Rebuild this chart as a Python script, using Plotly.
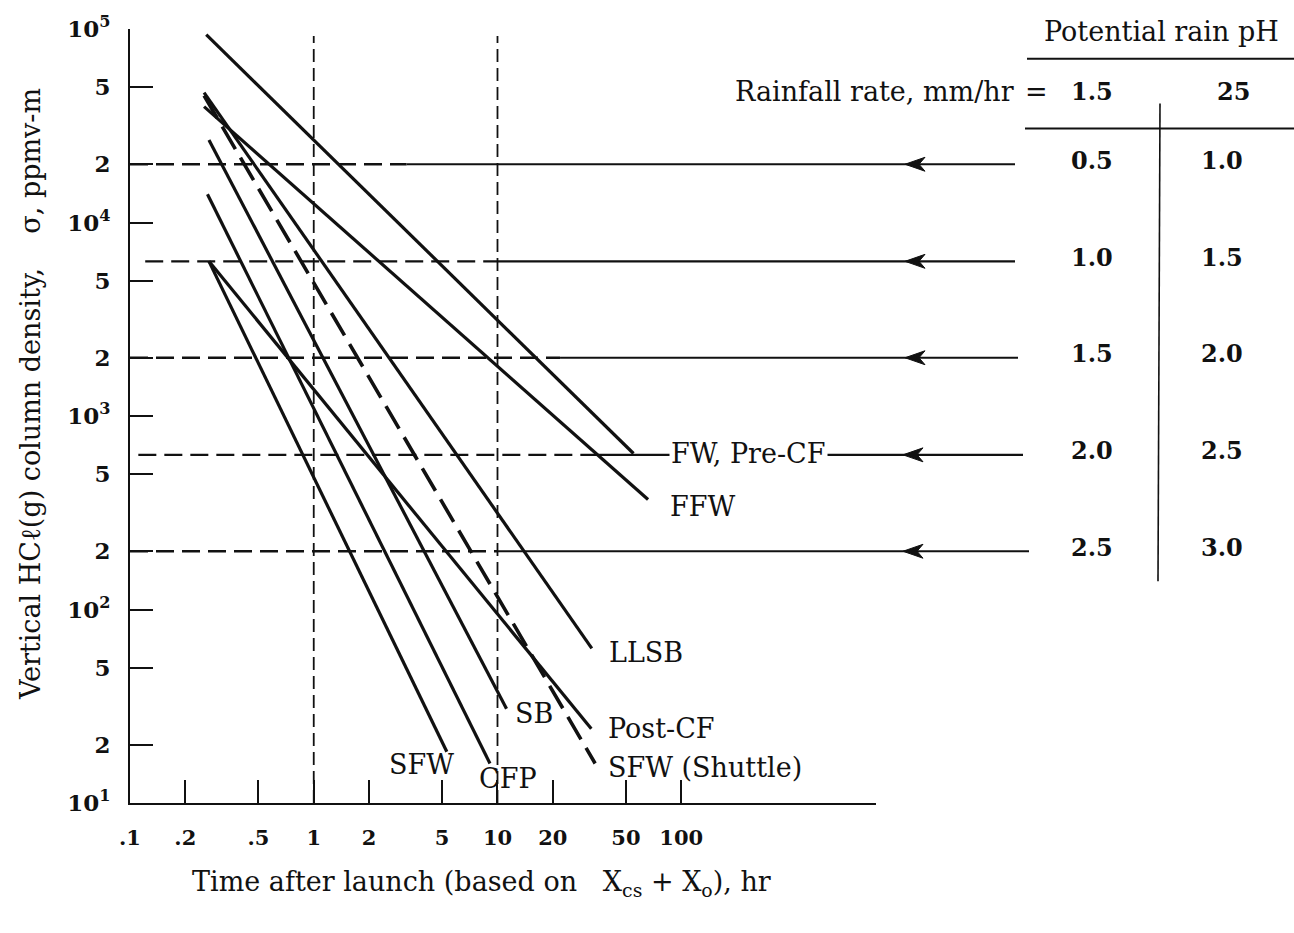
import math
import plotly.graph_objects as go

# ---- data -------------------------------------------------------------
curve_names = ["FW, Pre-CF", "FFW", "LLSB", "SB", "Post-CF",
               "SFW (Shuttle)", "SFW", "CFP"]
t_start = [0.26, 0.253, 0.253, 0.269, 0.269, 0.253, 0.269, 0.264]      # hr
t_end = [55.0, 66.0, 32.6, 11.2, 32.4, 34.0, 5.3, 9.1]                  # hr
sigma_start = [93500, 39700, 46900, 26700, 6300, 45300, 6300, 14000]    # ppmv-m
sigma_end = [640, 370, 63, 30.7, 24.2, 16.0, 18.4, 16.0]                # ppmv-m
curve_dashed = [False, False, False, False, False, True, False, False]

# threshold column densities and the rain pH they correspond to
level_sigma = [20000, 6300, 2000, 630, 200]
ph_rate_low = ["0.5", "1.0", "1.5", "2.0", "2.5"]     # 1.5 mm/hr
ph_rate_high = ["1.0", "1.5", "2.0", "2.5", "3.0"]    # 25 mm/hr
rain_rates = ["1.5", "25"]

x_tickvals = [0.1, 0.2, 0.5, 1, 2, 5, 10, 20, 50, 100]
x_ticktext = [".1", ".2", ".5", "1", "2", "5", "10", "20", "50", "100"]
y_tickvals = [10, 20, 50, 100, 200, 500, 1e3, 2e3, 5e3, 1e4, 2e4, 5e4, 1e5]
y_ticktext = ["10<sup>1</sup>", "2", "5", "10<sup>2</sup>", "2", "5",
              "10<sup>3</sup>", "2", "5", "10<sup>4</sup>", "2", "5",
              "10<sup>5</sup>"]
ref_times = [1, 10]

# ---- layout geometry ---------------------------------------------------
FIG_W, FIG_H = 1294, 933
ML, MR, MT, MB = 130, 418, 25, 130
PW = FIG_W - ML - MR
PH = FIG_H - MT - MB
X_RANGE = [-1.0, 3.06]
Y_RANGE = [1.0, 5.0]
FONT = "DejaVu Serif"
BLACK = "#111111"
LABEL_SIZE = 27
NUM_SIZE = 24


def xp(hours):
    return (math.log10(hours) - X_RANGE[0]) / (X_RANGE[1] - X_RANGE[0])


def yp(val):
    return (math.log10(val) - Y_RANGE[0]) / (Y_RANGE[1] - Y_RANGE[0])


def pxx(p):
    return (p - ML) / PW


def pxy(p):
    return (FIG_H - MB - p) / PH


fig = go.Figure()

# reference verticals at 1 hr and 10 hr
for t in ref_times:
    fig.add_trace(go.Scatter(x=[t, t], y=[10, 9.2e4], mode="lines",
                             line=dict(color=BLACK, width=1.8, dash="13px,6px"),
                             hoverinfo="skip", showlegend=False))

# threshold lines: dashed inside the plot, then solid towards the table
level_dash_from = [0.1, 0.121, 0.1, 0.111, 0.1]
level_dash_to = [3.2, 10.0, 21.9, 34.8, 10.0]
level_right_px = [1015, 1015, 1018, 1023, 1029]
level_arrow_px = [905, 905, 905, 903, 903]

shapes = []
for s, a, b, rpx, apx in zip(level_sigma, level_dash_from, level_dash_to,
                             level_right_px, level_arrow_px):
    fig.add_trace(go.Scatter(x=[a, b], y=[s, s], mode="lines",
                             line=dict(color=BLACK, width=2.4, dash="18px,8px"),
                             hoverinfo="skip", showlegend=False))
    shapes.append(dict(type="line", xref="paper", yref="paper",
                       x0=xp(b), x1=pxx(rpx), y0=yp(s), y1=yp(s),
                       line=dict(color=BLACK, width=2.2)))
    tx, ty = pxx(apx), yp(s)
    dx, dy, notch = 20 / PW, 7 / PH, 14 / PW
    shapes.append(dict(type="path", xref="paper", yref="paper",
                       path=f"M {tx},{ty} L {tx + dx},{ty + dy} L {tx + notch},{ty} "
                            f"L {tx + dx},{ty - dy} Z",
                       fillcolor=BLACK, line=dict(color=BLACK, width=1)))

# decay curves
for name, t0, t1, s0, s1, dashed in zip(curve_names, t_start, t_end,
                                        sigma_start, sigma_end, curve_dashed):
    fig.add_trace(go.Scatter(x=[t0, t1], y=[s0, s1], mode="lines", name=name,
                             line=dict(color=BLACK, width=3.6 if dashed else 3.2,
                                       dash="26px,10px" if dashed else "solid"),
                             showlegend=False))

# curve labels next to the line ends
label_shift = {
    "FW, Pre-CF": (35, 0, "left"),
    "FFW": (20, -7, "left"),
    "LLSB": (15, -4, "left"),
    "SB": (6, -5, "left"),
    "Post-CF": (15, 0, "left"),
    "SFW (Shuttle)": (11, -4, "left"),
    "SFW": (-25, -13, "center"),
    "CFP": (18, -15, "center"),
}
annotations = []
for name, t1, s1 in zip(curve_names, t_end, sigma_end):
    dx, dy, anc = label_shift[name]
    annotations.append(dict(
        x=xp(t1), y=yp(s1), xref="paper", yref="paper", text=name,
        showarrow=False, xanchor=anc, yanchor="middle", xshift=dx, yshift=dy,
        font=dict(family=FONT, size=LABEL_SIZE, color=BLACK),
        bgcolor="white" if name == "FW, Pre-CF" else None, borderpad=1))

# rainfall / pH table
table_font = dict(family=FONT, size=LABEL_SIZE, color=BLACK)
num_font = dict(family=FONT, size=NUM_SIZE, color=BLACK, weight="bold")
annotations.append(dict(x=pxx(1161), y=pxy(28), xref="paper", yref="paper",
                        text="Potential rain pH", showarrow=False,
                        xanchor="center", yanchor="middle", font=table_font))
annotations.append(dict(x=pxx(1016), y=pxy(88), xref="paper", yref="paper",
                        text="Rainfall rate, mm/hr", showarrow=False,
                        xanchor="right", yanchor="middle", font=table_font))
annotations.append(dict(x=pxx(1036), y=pxy(88), xref="paper", yref="paper",
                        text="=", showarrow=False,
                        xanchor="center", yanchor="middle", font=table_font))
col_px = [1092, 1222]
annotations.append(dict(x=pxx(col_px[0]), y=pxy(88), xref="paper", yref="paper",
                        text=rain_rates[0], showarrow=False,
                        xanchor="center", yanchor="middle", font=num_font))
annotations.append(dict(x=pxx(1233), y=pxy(88), xref="paper", yref="paper",
                        text=rain_rates[1], showarrow=False,
                        xanchor="center", yanchor="middle", font=num_font))
for s, lo, hi in zip(level_sigma, ph_rate_low, ph_rate_high):
    annotations.append(dict(x=pxx(col_px[0]), y=yp(s) + 4 / PH, xref="paper",
                            yref="paper", text=lo, showarrow=False,
                            xanchor="center", yanchor="middle", font=num_font))
    annotations.append(dict(x=pxx(col_px[1]), y=yp(s) + 4 / PH, xref="paper",
                            yref="paper", text=hi, showarrow=False,
                            xanchor="center", yanchor="middle", font=num_font))

shapes += [
    dict(type="line", xref="paper", yref="paper", x0=pxx(1027), x1=pxx(1294),
         y0=pxy(55), y1=pxy(55), line=dict(color=BLACK, width=2)),
    dict(type="line", xref="paper", yref="paper", x0=pxx(1025), x1=pxx(1294),
         y0=pxy(125), y1=pxy(125), line=dict(color=BLACK, width=2)),
    dict(type="line", xref="paper", yref="paper", x0=pxx(1160), x1=pxx(1158),
         y0=pxy(100), y1=pxy(580), line=dict(color=BLACK, width=1.6)),
]

# axis titles
annotations.append(dict(
    x=pxx(30), y=pxy(392), xref="paper", yref="paper", textangle=-90,
    text="Vertical HC\u2113(g) column density,\u00a0\u00a0\u00a0\u00a0\u03c3, ppmv-m",
    showarrow=False, xanchor="center", yanchor="middle",
    font=dict(family=FONT, size=LABEL_SIZE, color=BLACK)))
annotations.append(dict(
    x=pxx(481), y=pxy(884), xref="paper", yref="paper",
    text="Time after launch (based on\u00a0\u00a0\u00a0X<sub>cs</sub> + X<sub>o</sub>), hr",
    showarrow=False, xanchor="center", yanchor="middle",
    font=dict(family=FONT, size=LABEL_SIZE, color=BLACK)))

fig.update_layout(
    width=FIG_W, height=FIG_H,
    margin=dict(l=ML, r=MR, t=MT, b=MB, pad=0),
    paper_bgcolor="white", plot_bgcolor="white",
    showlegend=False,
    shapes=shapes, annotations=annotations,
    xaxis=dict(type="log", range=X_RANGE, showgrid=False, zeroline=False,
               showline=True, linecolor=BLACK, linewidth=2.2,
               ticks="inside", ticklen=23, tickwidth=2, tickcolor=BLACK,
               tickvals=x_tickvals, ticktext=x_ticktext, ticklabelstandoff=15,
               tickfont=dict(family=FONT, size=21, color=BLACK, weight="bold")),
    yaxis=dict(type="log", range=Y_RANGE, showgrid=False, zeroline=False,
               showline=True, linecolor=BLACK, linewidth=2,
               ticks="inside", ticklen=23, tickwidth=2.4, tickcolor=BLACK,
               tickvals=y_tickvals, ticktext=y_ticktext, ticklabelstandoff=13,
               tickfont=dict(family=FONT, size=23, color=BLACK, weight="bold")),
)

fig.write_html("out.html")
